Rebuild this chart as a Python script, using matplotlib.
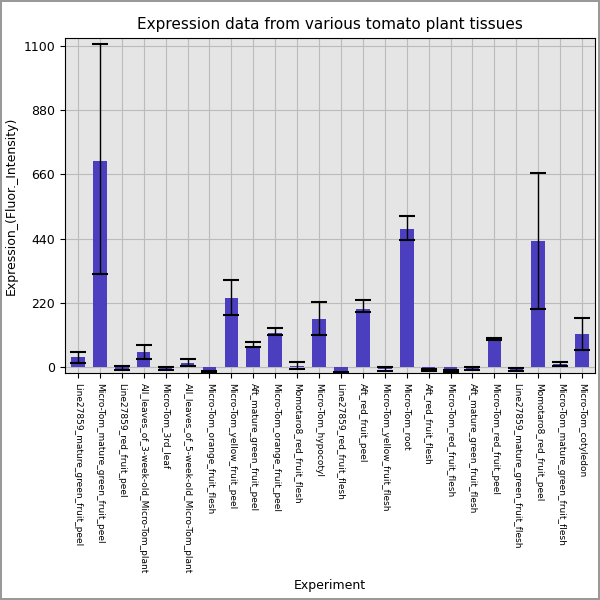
import matplotlib.pyplot as plt
import numpy as np

labels = [
    "Line27859_mature_green_fruit_peel", "Micro-Tom_mature_green_fruit_peel",
    "Line27859_red_fruit_peel", "All_leaves_of_3-week-old_Micro-Tom_plant",
    "Micro-Tom_3rd_leaf", "All_leaves_of_5-week-old_Micro-Tom_plant",
    "Micro-Tom_orange_fruit_flesh", "Micro-Tom_yellow_fruit_peel",
    "Aft_mature_green_fruit_peel", "Micro-Tom_orange_fruit_peel",
    "Momotaro8_red_fruit_flesh", "Micro-Tom_hypocotyl",
    "Line27859_red_fruit_flesh", "Aft_red_fruit_peel",
    "Micro-Tom_yellow_fruit_flesh", "Micro-Tom_root",
    "Aft_red_fruit_flesh", "Micro-Tom_red_fruit_flesh",
    "Aft_mature_green_fruit_flesh", "Micro-Tom_red_fruit_peel",
    "Line27859_mature_green_fruit_flesh", "Momotaro8_red_fruit_peel",
    "Micro-Tom_mature_green_fruit_flesh", "Micro-Tom_cotyledon",
]
values = [35, 706, -5, 51, -5, 15, -15, 236, 72, 116, 5, 165,
          -17, 200, -7, 473, -10, -12, -5, 96, -8, 432, 10, 113]
err_hi = [52, 1107, 3, 75, 0, 27, -13, 300, 85, 133, 18, 225,
          -16, 230, 0, 517, -5, -8, 0, 102, -3, 665, 18, 170]
err_lo = [15, 320, -10, 30, -8, 5, -16, 180, 70, 110, -5, 110,
          -18, 190, -12, 435, -12, -15, -8, 92, -12, 200, 5, 60]

x = np.arange(len(labels))
vals = np.array(values)
yerr = [vals - np.array(err_lo), np.array(err_hi) - vals]
yerr = np.clip(yerr, 0, None)

fig, ax = plt.subplots(figsize=(6, 6), dpi=100)
fig.subplots_adjust(left=0.108, right=0.992, top=0.937, bottom=0.378)
fig.patch.set_edgecolor("#999999")
fig.patch.set_linewidth(1.5)
ax.set_facecolor("#e5e5e5")
ax.bar(x, vals, width=0.62, color="#4b3fbf", zorder=3)
ax.errorbar(x, vals, yerr=yerr, fmt="none", ecolor="black", elinewidth=1,
            capsize=6, capthick=1.5, zorder=4)
ax.set_xlim(-0.6, len(labels) - 0.4)
ax.set_ylim(-20, 1127)
ax.set_yticks([0, 220, 440, 660, 880, 1100])
ax.grid(axis="both", color="#bbbbbb", linewidth=0.8, zorder=0)
ax.set_xticks(x)
ax.set_xticklabels(labels, rotation=-90, fontsize=6.5)
ax.tick_params(axis="y", labelsize=9)
ax.set_xlabel("Experiment", fontsize=9)
ax.set_ylabel("Expression_(Fluor._Intensity)", fontsize=9)
ax.set_title("Expression data from various tomato plant tissues", fontsize=11)
fig.savefig("out.png", edgecolor=fig.get_edgecolor())
